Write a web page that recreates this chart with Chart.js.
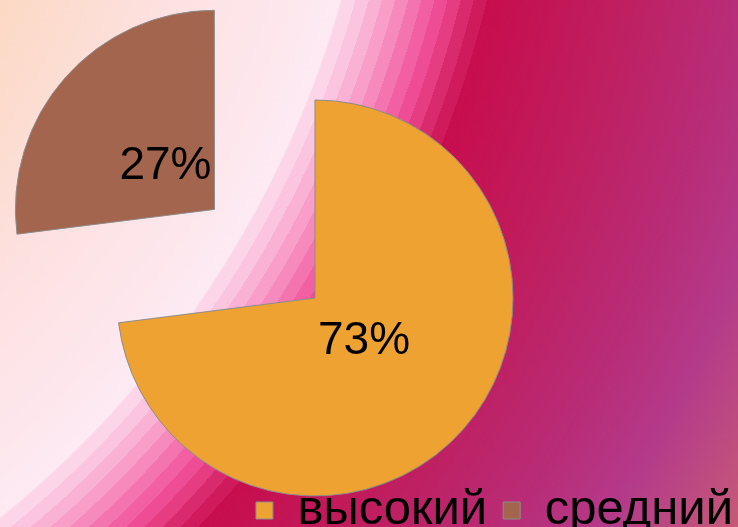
<!DOCTYPE html>
<html>
<head>
<meta charset="utf-8">
<script src="https://cdn.jsdelivr.net/npm/chart.js@4"></script>
<style>
  html, body { margin: 0; padding: 0; background: #fff; }
  canvas { display: block; }
</style>
</head>
<body>
<canvas id="levels-chart" width="738" height="527"></canvas>
<script>
// data
const categories = ['высокий', 'средний'];
const shares = [73, 27];
const sliceColors = ['#EEA232', '#A3654D'];
// Chart.js moves an arc by offset / 4, so 536 -> ~134px
const sliceOffsets = [0, 536];

// radial backdrop, peach -> pale pink -> stepped pinks -> crimson -> purple
const backdropPlugin = {
    id: 'backdrop',
    beforeDraw(chart) {
        const ctx = chart.ctx;
        const cx = -640, cy = -275, R = 1700;
        const g = ctx.createRadialGradient(cx, cy, 0, cx, cy, R);
        const stop = (r, c) => g.addColorStop(Math.min(r / R, 1), c);
        stop(0, '#FBCDB0');
        stop(697, '#FCD9C4');
        stop(850, '#FDE1E0');
        stop(1018, '#FDEAF3');
        // stepped bands
        const bands = ['#FCD6E8', '#FBC4DF', '#F9B1D4', '#F89EC9', '#F68ABD',
                       '#F474B0', '#F260A3', '#EE4C94', '#E63C82', '#DA2A6E', '#CF1A5C'];
        const b0 = 1020, b1 = 1160, step = (b1 - b0) / bands.length;
        bands.forEach((c, i) => {
            stop(b0 + i * step + 0.01, c);
            stop(b0 + (i + 1) * step, c);
        });
        stop(b1 + 0.01, '#C70D4D');
        stop(1290, '#BF1F60');
        stop(1405, '#B82D78');
        stop(1480, '#B43A8A');
        stop(1594, '#C65A78');
        stop(1700, '#CA627A');
        ctx.save();
        ctx.fillStyle = g;
        ctx.fillRect(0, 0, chart.width, chart.height);
        ctx.restore();
    }
};

// percentage labels inside the slices
const sliceLabelPlugin = {
    id: 'sliceLabels',
    afterDatasetsDraw(chart) {
        const ctx = chart.ctx;
        const meta = chart.getDatasetMeta(0);
        ctx.save();
        ctx.font = '46px "Liberation Sans", Arial, sans-serif';
        ctx.fillStyle = '#000';
        ctx.textAlign = 'center';
        ctx.textBaseline = 'middle';
        meta.data.forEach((arc, i) => {
            const p = arc.getProps(['x', 'y', 'startAngle', 'endAngle', 'outerRadius']);
            const mid = (p.startAngle + p.endAngle) / 2;
            const d = (arc.options.offset || 0) / 4 + p.outerRadius * 0.33;
            ctx.fillText(shares[i] + '%', p.x + Math.cos(mid) * d, p.y + Math.sin(mid) * d);
        });
        ctx.restore();
    }
};

const ctx = document.getElementById('levels-chart').getContext('2d');
const levelsChart = new Chart(ctx, {
    type: 'pie',
    data: {
        labels: categories,
        datasets: [{
            data: shares,
            backgroundColor: sliceColors,
            borderColor: '#8C8C8C',
            borderWidth: 1,
            offset: sliceOffsets,
            hoverOffset: 0,
            radius: 198
        }]
    },
    options: {
        responsive: false,
        animation: false,
        cutout: '0%', // string form, avoids 0/0 when the big offset eats the area
        layout: {
            // negative right only widens the full-size legend
            padding: { left: 0, right: -11, top: 126, bottom: 0 }
        },
        plugins: {
            tooltip: { enabled: false },
            // empty title on the right: pushes the pie centre left
            title: {
                display: true,
                position: 'right',
                text: '',
                font: { size: 10, lineHeight: 1 },
                padding: { top: 0, bottom: 109, left: 0, right: 0 }
            },
            legend: {
                position: 'bottom',
                align: 'end',
                maxHeight: 57,
                labels: {
                    color: '#000',
                    boxWidth: 17,
                    boxHeight: 17,
                    padding: 16,
                    font: { family: '"Liberation Sans", Arial, sans-serif', size: 49 }
                }
            }
        }
    },
    plugins: [backdropPlugin, sliceLabelPlugin]
});
</script>
</body>
</html>
